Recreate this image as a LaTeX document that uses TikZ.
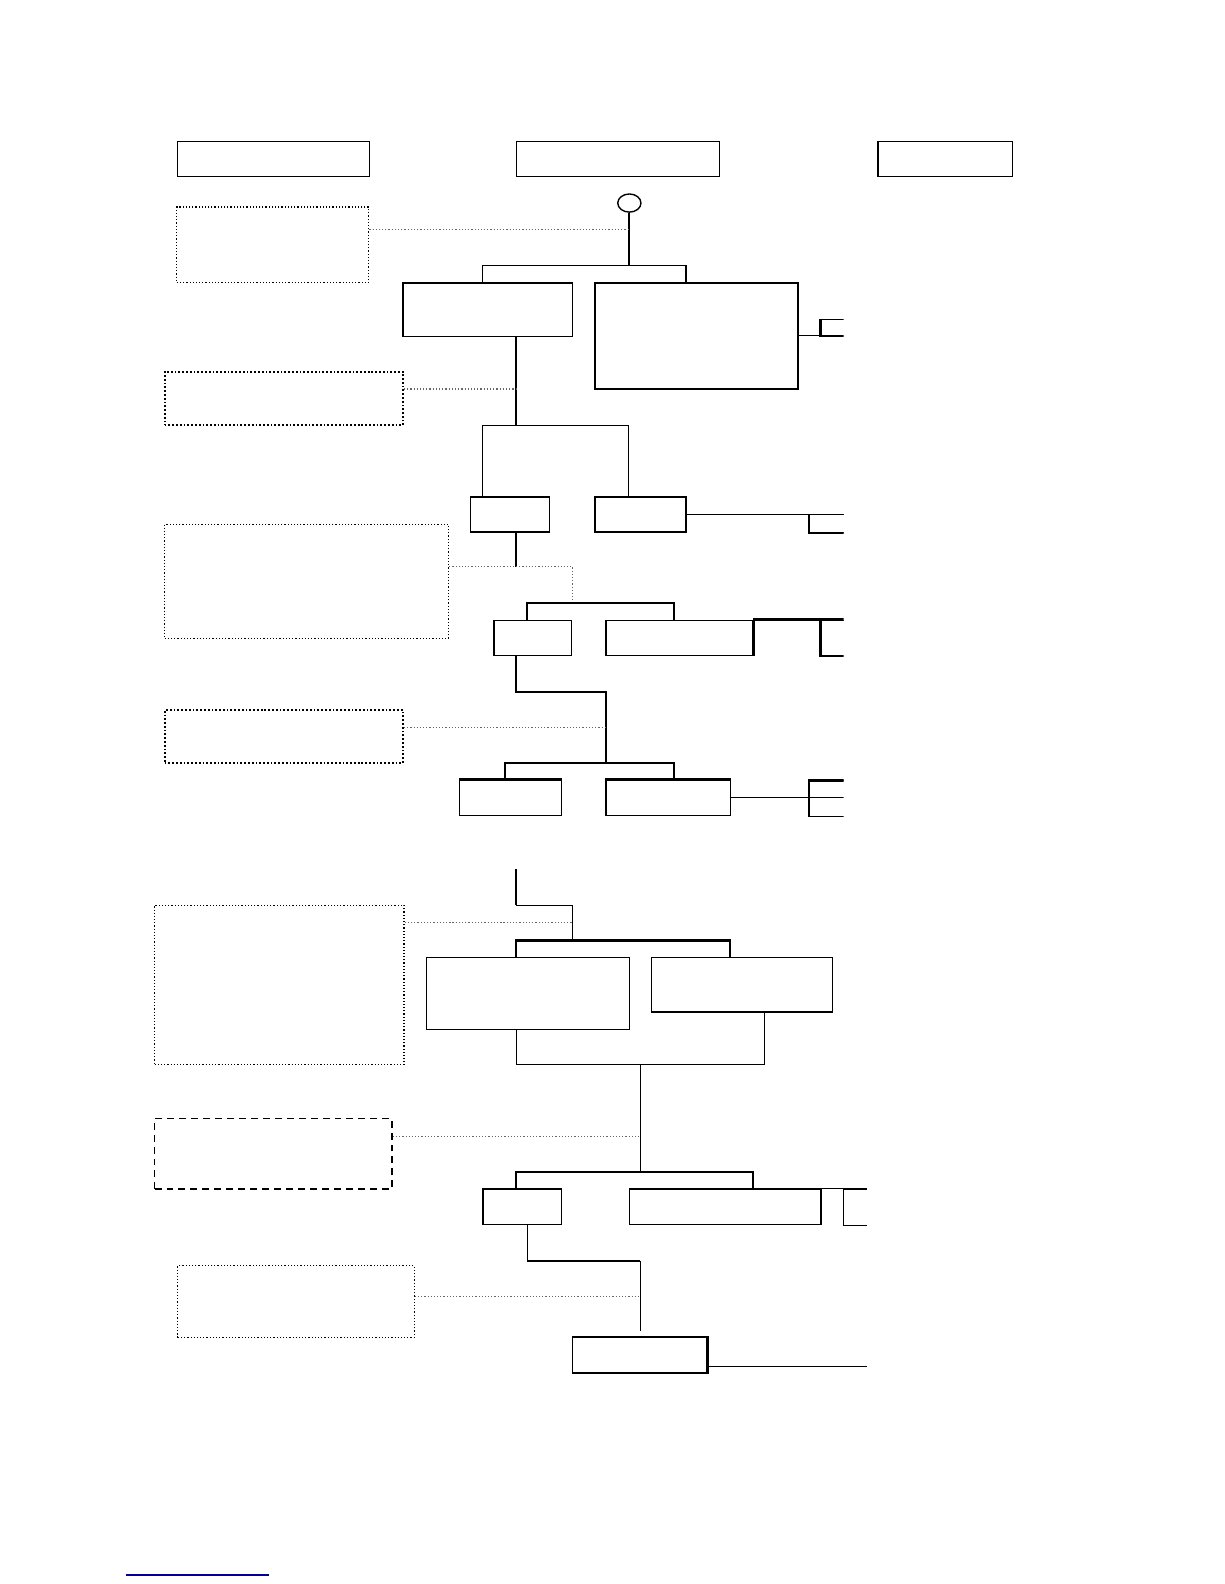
\documentclass[tikz,border=0pt]{standalone}
\usepackage{xcolor}
\usetikzlibrary{shapes.geometric,positioning,fit}
\tikzset{
    box/.style={
        rectangle, draw=black, line width=0.7pt, inner sep=0pt
    },
    note/.style={
        rectangle, draw=black, line width=0.6pt, densely dotted, inner sep=0pt
    },
    heavynote/.style={
        rectangle, draw=black, line width=0.9pt, densely dotted, inner sep=0pt
    },
    dashnote/.style={
        rectangle, draw=black, line width=0.8pt,
        dash pattern=on 3.5pt off 2.5pt, inner sep=0pt
    },
    startnode/.style={
        ellipse, draw=black, line width=0.7pt,
        minimum width=0.41cm, minimum height=0.32cm, inner sep=0pt
    },
    link/.style={draw, line width=0.6pt},
    trunk/.style={draw, line width=0.9pt},
    bar/.style={draw, line width=1.1pt},
    heavy/.style={draw, line width=1.2pt},
    hint/.style={draw=black!60, densely dotted, line width=0.6pt},
    footrule/.style={draw=blue!60!black, line width=0.7pt}
}

\begin{document}
\begin{tikzpicture}[x=0.01782cm, y=-0.01782cm]
\useasboundingbox (0,0) rectangle (1212,1568);

%% header row
\node[box, fit={(176,140) (366,175)}] (hleft)  {};
\node[box, fit={(511,140) (712,175)}] (hmid)   {};
\node[box, fit={(869,140) (1002,175)}] (hright) {};

%% start and first split
\node[startnode] (start) at (623,201) {};
\node[note, fit={(175,205) (365,280)}] (n1) {};
\node[box, fit={(399,280) (567,333)}] (a1) {};
\node[box, fit={(589,280) (790,385)}] (a2) {};
\coordinate (s1l) at (478,263);
\coordinate (s1r) at (679,263);
\coordinate (h1)  at (623,227);
\draw[trunk] (start.south) -- (start.south |- s1l);
\draw[link] (a1.north -| s1l) -- (s1l) -- (s1r) -- (a2.north -| s1r);
\draw[hint] (n1.east |- h1) -- (h1);

%% second split
\node[heavynote, fit={(163,368) (399,421)}] (n2) {};
\node[box, fit={(466,492) (544,526)}] (b1) {};
\node[box, fit={(589,492) (679,526)}] (b2) {};
\coordinate (s2m) at (511,421);
\coordinate (s2l) at (478,421);
\coordinate (s2r) at (622,421);
\coordinate (h2)  at (511,385);
\draw[trunk] (a1.south -| s2m) -- (s2m);
\draw[link] (b1.north -| s2l) -- (s2l) -- (s2r) -- (b2.north -| s2r);
\draw[hint] (n2.east |- h2) -- (h2);
\draw[heavy] (b1.south west) -- (b1.south east);
\draw[heavy] (b2.south west) -- (b2.south east);

%% third split
\node[note, fit={(163,519) (444,632)}] (n3) {};
\node[box, fit={(489,614) (566,649)}] (c1) {};
\node[box, fit={(600,614) (745,649)}] (c2) {};
\coordinate (s3)  at (511,561);
\coordinate (h3)  at (567,561);
\coordinate (h3b) at (567,597);
\coordinate (s4l) at (522,597);
\coordinate (s4r) at (667,597);
\draw[trunk] (b1.south -| s3) -- (s3);
\draw[hint] (n3.east |- h3) -- (h3) -- (h3b);
\draw[bar] (c1.north -| s4l) -- (s4l) -- (s4r) -- (c2.north -| s4r);
\draw[heavy] (c2.north east) -- (c2.south east);

%% fourth split
\node[heavynote, fit={(163,703) (399,755)}] (n4) {};
\node[box, fit={(455,772) (556,807)}] (d1) {};
\node[box, fit={(600,772) (723,807)}] (d2) {};
\coordinate (s5a) at (511,685);
\coordinate (s5b) at (600,685);
\coordinate (s6l) at (500,755);
\coordinate (s6m) at (600,755);
\coordinate (s6r) at (667,755);
\coordinate (h4)  at (600,720);
\draw[trunk] (c1.south -| s5a) -- (s5a) -- (s5b) -- (s6m);
\draw[hint] (n4.east |- h4) -- (h4);
\draw[bar] (d1.north -| s6l) -- (s6l) -- (s6r) -- (d2.north -| s6r);
\draw[heavy] (d1.north west) -- (d1.north east);
\draw[heavy] (d2.north west) -- (d2.north east);

%% right edge, upper part
\begin{scope}
\clip (0,0) rectangle (835,850);
\node[box, fit={(813,316) (900,333)}] (p1) {};
\node[box, fit={(801,509) (900,527)}] (p2) {};
\node[box, fit={(813,614) (900,649.5)}] (p3) {};
\node[box, fit={(801,773) (900,808)}] (p4) {};
\draw[link] (a2.east) -- (a2.east -| p1.east);
\draw[heavy] (p1.north west) -- (p1.south west);
\draw[link] (b2.east) -- (b2.east -| p2.east);
\draw[heavy] (p2.south west) -- (p2.south east);
\draw[bar] (c2.north east) -- (p3.north west) -- (p3.north east);
\draw[heavy] (p3.north west) -- (p3.south west);
\draw[link] (d2.east) -- (d2.east -| p4.east);
\draw[heavy] (p4.north west) -- (p4.north east);
\end{scope}

%% lower part
\node[note, fit={(153,896) (400,1054)}] (n5) {};
\node[box, fit={(422,948) (623,1019)}] (e1) {};
\node[box, fit={(645,948) (824,1001)}] (e2) {};
\coordinate (t1)  at (511,860);
\coordinate (t2)  at (511,896);
\coordinate (t3)  at (567,896);
\coordinate (s7m) at (567,931);
\coordinate (s7l) at (511,931);
\coordinate (s7r) at (723,931);
\coordinate (h5)  at (567,913);
\draw[trunk] (t1) -- (t2);
\draw[link] (t2) -- (t3) -- (s7m);
\draw[hint] (n5.east |- h5) -- (h5);
\draw[bar] (e1.north -| s7l) -- (s7l) -- (s7r) -- (e2.north -| s7r);
\draw[heavy] (e2.south west) -- (e2.south east);

\coordinate (j1)  at (511,1054);
\coordinate (j2)  at (757,1054);
\coordinate (j3)  at (634,1054);
\coordinate (s8m) at (634,1160);
\coordinate (s8l) at (511,1160);
\coordinate (s8r) at (745,1160);
\coordinate (h6)  at (634,1125);
\draw[link] (e1.south -| j1) -- (j1) -- (j2) -- (e2.south -| j2);
\draw[link] (j3) -- (s8m);
\node[dashnote, fit={(153,1107) (388,1177)}] (n6) {};
\draw[hint] (n6.east |- h6) -- (h6);
\node[box, fit={(478,1177) (556,1212)}] (f1) {};
\node[box, fit={(623,1177) (812,1212)}] (f2) {};
\draw[bar] (f1.north -| s8l) -- (s8l) -- (s8r) -- (f2.north -| s8r);
\draw[heavy] (f2.north east) -- (f2.south east);

\coordinate (k1) at (522,1248);
\coordinate (k2) at (634,1248);
\coordinate (k3) at (634,1318);
\coordinate (h7) at (634,1283);
\draw[link] (f1.south -| k1) -- (k1);
\draw[bar] (k1) -- (k2);
\draw[link] (k2) -- (k3);
\node[note, fit={(176,1253) (410,1324)}] (n7) {};
\draw[hint] (n7.east |- h7) -- (h7);
\node[box, fit={(567,1324) (700,1359)}] (m1) {};
\draw[heavy] (m1.north west) -- (m1.north east) -- (m1.south east);
\coordinate (mout) at (858,1353);

%% right edge, lower part
\begin{scope}
\clip (0,1100) rectangle (858,1400);
\node[box, fit={(835,1177) (900,1213)}] (p6) {};
\draw[link] (f2.north east) -- (p6.north west);
\end{scope}
\draw[link] (m1.east |- mout) -- (mout);

%% footnote rule
\coordinate (fnl) at (125,1559);
\coordinate (fnr) at (266,1559);
\draw[footrule] (fnl) -- (fnr);

\end{tikzpicture}
\end{document}
